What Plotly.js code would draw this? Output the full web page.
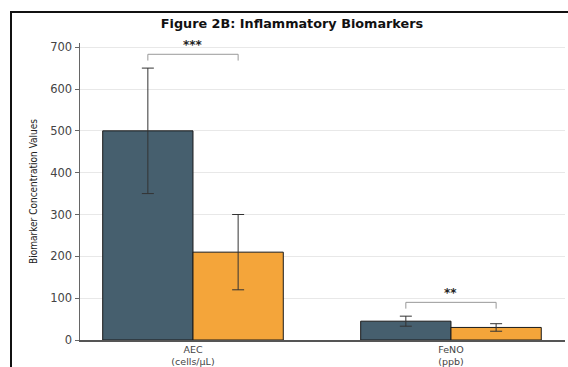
<!DOCTYPE html>
<html>
<head>
<meta charset="utf-8">
<script src="https://cdn.plot.ly/plotly-3.0.1.min.js"></script>
<style>
html,body{margin:0;padding:0;background:#fff;overflow:hidden;}
#wrap{position:relative;width:568px;height:367px;overflow:hidden;}
#chart{width:568px;height:367px;}
#frame{position:absolute;left:10px;top:11px;width:600px;height:400px;border-left:2px solid #111;border-top:2px solid #111;pointer-events:none;}
</style>
</head>
<body>
<div id="wrap">
<div id="chart"></div>
<div id="frame"></div>
</div>
<script>
// ---- data ----
const categories = ["AEC<br>(cells/μL)", "FeNO<br>(ppb)"];
const group1Name = "Group 1";
const group2Name = "Group 2";
const group1Values = [500, 45];
const group1Errors = [150, 12];
const group2Values = [210, 30];
const group2Errors = [90, 9];
const bracketHeights = [683, 90];
const significance = ["***", "**"];
const yTicks = [0, 100, 200, 300, 400, 500, 600, 700];

// ---- styles ----
const darkColor = "#465f6e";
const orangeColor = "#f4a53a";
const bargap = 0.3;
const barOffset = (1 - bargap) / 4;

const traces = [
  {
    type: "bar", name: group1Name, x: categories, y: group1Values,
    marker: {color: darkColor, line: {color: "#1a1a1a", width: 1}},
    error_y: {type: "data", array: group1Errors, visible: true, color: "#333", thickness: 1, width: 6}
  },
  {
    type: "bar", name: group2Name, x: categories, y: group2Values,
    marker: {color: orangeColor, line: {color: "#1a1a1a", width: 1}},
    error_y: {type: "data", array: group2Errors, visible: true, color: "#333", thickness: 1, width: 6}
  }
];

const shapes = [];
const annotations = [];
categories.forEach((c, i) => {
  const h = bracketHeights[i];
  const x0 = i - barOffset, x1 = i + barOffset;
  const drop = 15;
  const lineStyle = {color: "#999", width: 1};
  shapes.push({type: "line", xref: "x", yref: "y", x0: x0, x1: x1, y0: h, y1: h, line: lineStyle});
  shapes.push({type: "line", xref: "x", yref: "y", x0: x0, x1: x0, y0: h, y1: h - drop, line: lineStyle});
  shapes.push({type: "line", xref: "x", yref: "y", x0: x1, x1: x1, y0: h, y1: h - drop, line: lineStyle});
  annotations.push({xref: "x", yref: "y", x: i, y: h + 22, text: "<b>" + significance[i] + "</b>",
    showarrow: false, yanchor: "middle", font: {family: "DejaVu Sans", size: 12, color: "#222"}});
});

const layout = {
  width: 568, height: 367,
  margin: {l: 80, r: 3, t: 43, b: 27},
  paper_bgcolor: "#fff", plot_bgcolor: "#fff",
  showlegend: false,
  barmode: "group", bargap: bargap, bargroupgap: 0,
  font: {family: "DejaVu Sans", color: "#333"},
  title: {
    text: "<b>Figure 2B: Inflammatory Biomarkers</b>",
    font: {family: "DejaVu Sans", size: 12.8, color: "#111"},
    xref: "container", x: 0.514, xanchor: "center",
    yref: "container", y: 0.937, yanchor: "middle"
  },
  xaxis: {
    type: "category", range: [-0.438, 1.442],
    showline: true, linecolor: "#555", linewidth: 1.5,
    ticks: "", tickfont: {family: "DejaVu Sans", size: 9.5, color: "#444"},
    showgrid: false, zeroline: false
  },
  yaxis: {
    range: [0, 710], tickvals: yTicks,
    showline: true, linecolor: "#666", linewidth: 1.5,
    ticks: "outside", ticklen: 4, tickcolor: "#666",
    tickfont: {family: "DejaVu Sans", size: 11.5, color: "#444"},
    showgrid: true, gridcolor: "#e8e8e8", gridwidth: 1,
    zeroline: false,
    title: {text: "Biomarker Concentration Values", font: {family: "DejaVu Sans Condensed, DejaVu Sans", size: 10, color: "#222"}, standoff: 10}
  },
  shapes: shapes,
  annotations: annotations
};

Plotly.newPlot("chart", traces, layout, {displayModeBar: false, staticPlot: true});
</script>
</body>
</html>
